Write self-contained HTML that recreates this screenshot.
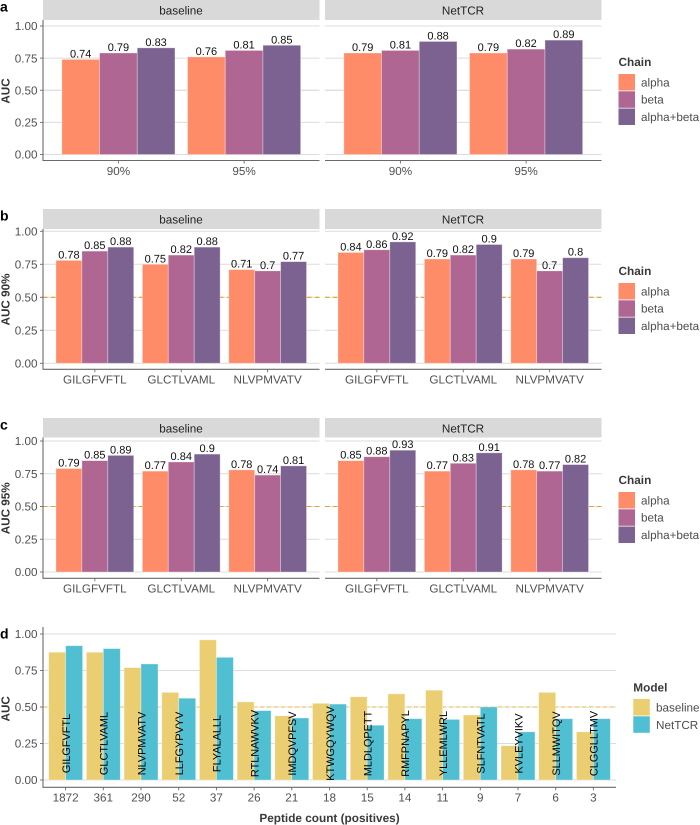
<!DOCTYPE html>
<html lang="en">
<head>
<meta charset="utf-8">
<title>AUC comparison of baseline and NetTCR models</title>
<style>
html,body{margin:0;padding:0;background:#fff;width:700px;height:825px;overflow:hidden}
svg{display:block;font-family:"Liberation Sans",Arial,sans-serif;text-rendering:geometricPrecision;filter:blur(0.3px)}
.letter{font-size:14px;font-weight:bold;fill:#000}
.strip{fill:#d9d9d9}
.strip-text{font-size:11.7px;fill:#222;text-anchor:middle}
.ytitle{font-size:11.7px;font-weight:bold;fill:#333;text-anchor:middle}
.xtitle{font-size:11.8px;font-weight:bold;fill:#3a3a3a;text-anchor:middle}
.legend-title{font-size:11.8px;font-weight:bold;fill:#3a3a3a}
.legend-label{font-size:11.7px;fill:#4d4d4d}
.tick{font-size:11.7px;fill:#505050}
.value{font-size:11px;fill:#111;text-anchor:middle}
.pep{font-size:10.9px;fill:#000;text-anchor:middle}
</style>
</head>
<body>
<svg id="figure" width="700" height="825" viewBox="0 0 700 825" xmlns="http://www.w3.org/2000/svg">
  <text class="letter" x="0" y="11.5">a</text>
  <text class="letter" x="0" y="220.5">b</text>
  <text class="letter" x="0" y="429.5">c</text>
  <text class="letter" x="0" y="638.5">d</text>

  <rect class="strip" x="43" y="0" width="276.5" height="20"/>
  <rect class="strip" x="325" y="0" width="276.5" height="20"/>
  <text class="strip-text" x="181" y="14.5">baseline</text>
  <text class="strip-text" x="463" y="14.5">NetTCR</text>
  <rect class="strip" x="43" y="209" width="276.5" height="20"/>
  <rect class="strip" x="325" y="209" width="276.5" height="20"/>
  <text class="strip-text" x="181" y="223.5">baseline</text>
  <text class="strip-text" x="463" y="223.5">NetTCR</text>
  <rect class="strip" x="43" y="418" width="276.5" height="19.5"/>
  <rect class="strip" x="325" y="418" width="276.5" height="19.5"/>
  <text class="strip-text" x="181" y="432.5">baseline</text>
  <text class="strip-text" x="463" y="432.5">NetTCR</text>

  <text class="ytitle" transform="translate(9.7,91) rotate(-90)">AUC</text>
  <text class="ytitle" transform="translate(9.7,299.5) rotate(-90)">AUC 90%</text>
  <text class="ytitle" transform="translate(9.7,508.3) rotate(-90)">AUC 95%</text>
  <text class="ytitle" transform="translate(9.7,708.8) rotate(-90)">AUC</text>
  <text class="xtitle" x="329.5" y="822">Peptide count (positives)</text>

  <g>
    <text class="legend-title" x="618.5" y="66">Chain</text>
    <rect x="618.5" y="74" width="16.5" height="16.5" fill="#ff8c69"/>
    <rect x="618.5" y="91.3" width="16.5" height="16.5" fill="#b06692"/>
    <rect x="618.5" y="108.5" width="16.5" height="16.5" fill="#7b6290"/>
    <text class="legend-label" x="641" y="86.5">alpha</text>
    <text class="legend-label" x="641" y="103.5">beta</text>
    <text class="legend-label" x="641" y="121">alpha+beta</text>
  </g>
  <g>
    <text class="legend-title" x="618.5" y="275">Chain</text>
    <rect x="618.5" y="283" width="16.5" height="16.5" fill="#ff8c69"/>
    <rect x="618.5" y="300.3" width="16.5" height="16.5" fill="#b06692"/>
    <rect x="618.5" y="317.5" width="16.5" height="16.5" fill="#7b6290"/>
    <text class="legend-label" x="641" y="295.5">alpha</text>
    <text class="legend-label" x="641" y="312.5">beta</text>
    <text class="legend-label" x="641" y="330">alpha+beta</text>
  </g>
  <g>
    <text class="legend-title" x="618.5" y="484">Chain</text>
    <rect x="618.5" y="492" width="16.5" height="16.5" fill="#ff8c69"/>
    <rect x="618.5" y="509.3" width="16.5" height="16.5" fill="#b06692"/>
    <rect x="618.5" y="526.5" width="16.5" height="16.5" fill="#7b6290"/>
    <text class="legend-label" x="641" y="504.5">alpha</text>
    <text class="legend-label" x="641" y="521.5">beta</text>
    <text class="legend-label" x="641" y="539">alpha+beta</text>
  </g>
  <g>
    <text class="legend-title" x="633.3" y="691.5">Model</text>
    <rect x="633.3" y="699" width="16.5" height="16.5" fill="#ecce72"/>
    <rect x="633.3" y="716.3" width="16.5" height="16.5" fill="#50bfd2"/>
    <text class="legend-label" x="656" y="711.5">baseline</text>
    <text class="legend-label" x="656" y="729">NetTCR</text>
  </g>
</svg>

<script>
const tickValues = [0, 0.25, 0.5, 0.75, 1];
const tickLabels = ['0.00', '0.25', '0.50', '0.75', '1.00'];
const chainColors = ['#ff8c69', '#b06692', '#7b6290'];
const modelColors = ['#ecce72', '#50bfd2'];

const thresholdCategories = ['90%', '95%'];
const aBaselineAlpha = [0.74, 0.76];
const aBaselineBeta = [0.79, 0.81];
const aBaselineBoth = [0.83, 0.85];
const aNetAlpha = [0.79, 0.79];
const aNetBeta = [0.81, 0.82];
const aNetBoth = [0.88, 0.89];

const peptideCategories = ['GILGFVFTL', 'GLCTLVAML', 'NLVPMVATV'];
const bBaselineAlpha = [0.78, 0.75, 0.71];
const bBaselineBeta = [0.85, 0.82, 0.7];
const bBaselineBoth = [0.88, 0.88, 0.77];
const bNetAlpha = [0.84, 0.79, 0.79];
const bNetBeta = [0.86, 0.82, 0.7];
const bNetBoth = [0.92, 0.9, 0.8];

const cBaselineAlpha = [0.79, 0.77, 0.78];
const cBaselineBeta = [0.85, 0.84, 0.74];
const cBaselineBoth = [0.89, 0.9, 0.81];
const cNetAlpha = [0.85, 0.77, 0.78];
const cNetBeta = [0.88, 0.83, 0.77];
const cNetBoth = [0.93, 0.91, 0.82];

const countCategories = ['1872', '361', '290', '52', '37', '26', '21', '18', '15', '14', '11', '9', '7', '6', '3'];
const countPeptides = ['GILGFVFTL', 'GLCTLVAML', 'NLVPMVATV', 'LLFGYPVYV', 'FLYALALLL', 'RTLNAWVKV', 'IMDQVPFSV', 'KTWGQYWQV', 'MLDLQPETT', 'RMFPNAPYL', 'YLLEMLWRL', 'SLFNTVATL', 'KVLEYVIKV', 'SLLMWITQV', 'CLGGLLTMV'];
const dBaseline = [0.875, 0.875, 0.77, 0.6, 0.96, 0.535, 0.44, 0.525, 0.57, 0.59, 0.615, 0.445, 0.235, 0.6, 0.33];
const dNetTCR = [0.92, 0.9, 0.795, 0.56, 0.84, 0.475, 0.425, 0.52, 0.375, 0.42, 0.415, 0.5, 0.33, 0.42, 0.42];

const SVGNS = 'http://www.w3.org/2000/svg';
const figure = document.getElementById('figure');

function shape(tag, attrs) {
  const el = document.createElementNS(SVGNS, tag);
  for (const k in attrs) el.setAttribute(k, attrs[k]);
  figure.appendChild(el);
  return el;
}

function xCenter(i, n, left, right) {
  return left + (0.6 + i) * (right - left) / (n + 0.2);
}

function yPos(v, y0, y1) {
  return y0 - v * (y0 - y1);
}

function drawGrid(id, left, right, y0, y1, dash) {
  tickValues.forEach(function (t, i) {
    const y = yPos(t, y0, y1);
    const line = shape('line', {x1: left, x2: right, y1: y, y2: y, stroke: '#dcdcdc', 'stroke-width': 1});
    
    
  });
  const ref = shape('line', {x1: left, x2: right, y1: yPos(0.5, y0, y1), y2: yPos(0.5, y0, y1),
    stroke: dash.color, 'stroke-width': dash.width, 'stroke-dasharray': dash.pattern});
  
  
}

function drawBars(id, cats, series, colors, left, right, y0, y1, showValues) {
  const unit = (right - left) / (cats.length + 0.2);
  const bw = 0.9 * unit / series.length;
  series.forEach(function (vals, s) {
    vals.forEach(function (v, i) {
      const x = xCenter(i, cats.length, left, right) - 0.45 * unit + s * bw;
      const y = yPos(v, y0, y1);
      const bar = shape('rect', {x: x, y: y, width: bw, height: y0 - y, fill: colors[s]});
      
      
      const edge = shape('path', {d: 'M' + x + ' ' + y0 + 'V' + y + 'H' + (x + bw) + 'V' + y0 + 'Z', fill: 'none', stroke: '#ffffff', 'stroke-opacity': 0.4, 'stroke-width': 0.8});
      
      
      if (showValues) {
        const label = shape('text', {class: 'value', x: x + bw / 2, y: y - 2});
        label.textContent = String(Number(v.toFixed(2)));
        
        
      }
    });
  });
}

function drawXAxis(id, cats, left, right, axisY, labelY) {
  const axis = shape('line', {x1: left, x2: right, y1: axisY, y2: axisY, stroke: '#6a6a6a', 'stroke-width': 1.1});
  
  
  cats.forEach(function (c, i) {
    const x = xCenter(i, cats.length, left, right);
    const tick = shape('line', {x1: x, x2: x, y1: axisY, y2: axisY + 3, stroke: '#6a6a6a', 'stroke-width': 0.9});
    
    
    const label = shape('text', {class: 'tick', x: x, y: labelY, 'text-anchor': 'middle'});
    label.textContent = c;
    
    
  });
}

function drawYAxis(id, left, top, axisY, y0, y1) {
  const axis = shape('line', {x1: left, x2: left, y1: top, y2: axisY + 0.5, stroke: '#6a6a6a', 'stroke-width': 1.1});
  
  
  tickValues.forEach(function (t, i) {
    const y = yPos(t, y0, y1);
    const tick = shape('line', {x1: left - 3, x2: left, y1: y, y2: y, stroke: '#6a6a6a', 'stroke-width': 0.9});
    
    
    const label = shape('text', {class: 'tick', x: left - 5.5, y: y + 4.2, 'text-anchor': 'end'});
    label.textContent = tickLabels[i];
    
    
  });
}

const FACET1 = [43, 319.5];
const FACET2 = [325, 601.5];
const chainDash = {color: '#e3a21f', width: 1.1, pattern: '4.5 3.5'};
const modelDash = {color: '#efd27f', width: 1.6, pattern: '4 3'};

function drawChainPanel(id, cats, baseSeries, netSeries, geom, dash) {
  drawGrid(id + '-baseline', FACET1[0], FACET1[1], geom.y0, geom.y1, dash);
  drawGrid(id + '-nettcr', FACET2[0], FACET2[1], geom.y0, geom.y1, dash);
  drawBars(id + '-baseline', cats, baseSeries, chainColors, FACET1[0], FACET1[1], geom.y0, geom.y1, true);
  drawBars(id + '-nettcr', cats, netSeries, chainColors, FACET2[0], FACET2[1], geom.y0, geom.y1, true);
  drawXAxis(id + '-baseline', cats, FACET1[0], FACET1[1], geom.axisY, geom.labelY);
  drawXAxis(id + '-nettcr', cats, FACET2[0], FACET2[1], geom.axisY, geom.labelY);
  drawYAxis(id, FACET1[0], geom.top, geom.axisY, geom.y0, geom.y1);
}

const noDash = {color: '#dcdcdc', width: 1, pattern: 'none'};

drawChainPanel('a', thresholdCategories,
  [aBaselineAlpha, aBaselineBeta, aBaselineBoth],
  [aNetAlpha, aNetBeta, aNetBoth],
  {y0: 154.5, y1: 26, axisY: 160.5, labelY: 175, top: 20}, noDash);

drawChainPanel('b', peptideCategories,
  [bBaselineAlpha, bBaselineBeta, bBaselineBoth],
  [bNetAlpha, bNetBeta, bNetBoth],
  {y0: 363.3, y1: 231.3, axisY: 369.3, labelY: 383.5, top: 229}, chainDash);

drawChainPanel('c', peptideCategories,
  [cBaselineAlpha, cBaselineBeta, cBaselineBoth],
  [cNetAlpha, cNetBeta, cNetBoth],
  {y0: 572, y1: 441, axisY: 578.3, labelY: 592.5, top: 437.5}, chainDash);

const D_LEFT = 43, D_RIGHT = 616, D_Y0 = 780, D_Y1 = 634, D_AXIS = 787.3;
drawGrid('d', D_LEFT, D_RIGHT, D_Y0, D_Y1, modelDash);
drawBars('d', countCategories, [dBaseline, dNetTCR], modelColors, D_LEFT, D_RIGHT, D_Y0, D_Y1, false);
countPeptides.forEach(function (p, i) {
  const x = xCenter(i, countPeptides.length, D_LEFT, D_RIGHT);
  const label = shape('text', {class: 'pep', transform: 'translate(' + (x + 4.3) + ',' + yPos(0.25, D_Y0, D_Y1) + ') rotate(-90)'});
  label.textContent = p;
  
  
});
drawXAxis('d', countCategories, D_LEFT, D_RIGHT, D_AXIS, 801.5);
drawYAxis('d', D_LEFT, 627, D_AXIS, D_Y0, D_Y1);
</script>
</body>
</html>
